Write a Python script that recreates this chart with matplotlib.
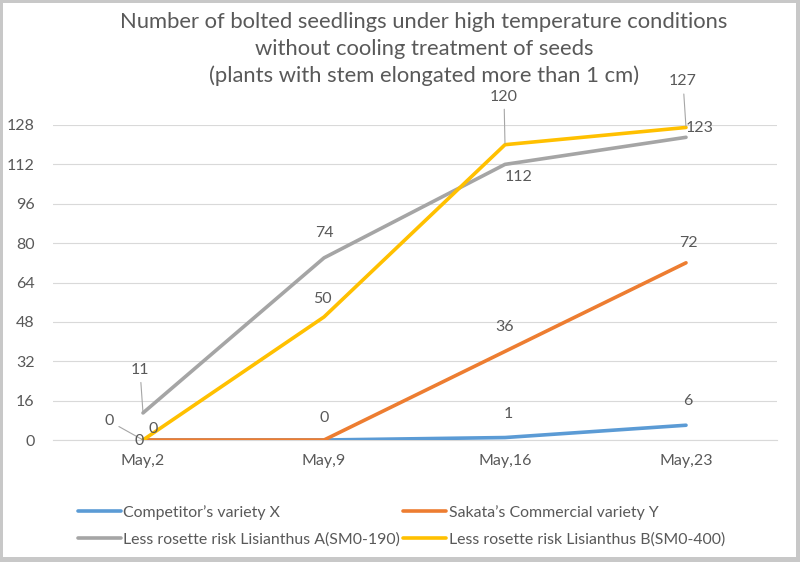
import matplotlib
matplotlib.use("Agg")
import matplotlib.pyplot as plt
from matplotlib.patches import Rectangle

# --- dados ---
dates = ["May,2", "May,9", "May,16", "May,23"]
competitor_x = [0, 0, 1, 6]
sakata_y = [0, 0, 36, 72]
lisianthus_a = [11, 74, 112, 123]
lisianthus_b = [0, 50, 120, 127]
series_names = [
    "Competitor\u2019s variety X",
    "Sakata\u2019s Commercial variety Y",
    "Less rosette risk Lisianthus A(SM0-190)",
    "Less rosette risk Lisianthus B(SM0-400)",
]
y_ticks = [0, 16, 32, 48, 64, 80, 96, 112, 128]
title_lines = [
    "Number of bolted seedlings under high temperature conditions",
    "without cooling treatment of seeds",
    "(plants with stem elongated more than 1 cm)",
]

colors = ["#5b9bd5", "#ed7d31", "#a5a5a5", "#ffc000"]
text_color = "#595959"
font = "Lato"

# posição dos rótulos (dx, dy em pixels, com linha guia?) por série / ponto
label_offsets = [
    [(-34, 19, True), (0, 22, False), (3, 24, False), (2, 24, False)],
    [(-4, -1, False), None, (0, 24, False), (2, 20, False)],
    [(-3, 43, True), (0, 25, False), (14, -13, False), (14, 9, False)],
    [(10, 11, False), (-2, 18, False), (-1, 48, True), (-3, 46, True)],
]

plt.rcParams["font.family"] = [font, "DejaVu Sans"]

fig = plt.figure(figsize=(8, 5.62), dpi=100)
fig.patch.set_facecolor("#c8c8c8")
fig.patches.append(Rectangle((3 / 800, 5 / 562), 793 / 800, 554 / 562,
                             transform=fig.transFigure, facecolor="white",
                             edgecolor="none", zorder=-10))

ax = fig.add_axes([52.5 / 800, 1 - 440 / 562, 724 / 800, 315 / 562])
ax.set_facecolor("none")

x = list(range(len(dates)))
all_series = [competitor_x, sakata_y, lisianthus_a, lisianthus_b]
lines = []
for i, (vals, col) in enumerate(zip(all_series, colors)):
    ln, = ax.plot(x, vals, color=col, lw=2.6, solid_capstyle="round",
                  solid_joinstyle="round", zorder=3 + i)
    lines.append(ln)

# rótulos de dados
for vals, offs in zip(all_series, label_offsets):
    for xi, (v, off) in enumerate(zip(vals, offs)):
        if off is None:
            continue
        dx, dy, leader = off
        kw = {}
        if leader:
            kw["arrowprops"] = dict(arrowstyle="-", color="#a6a6a6", lw=0.8,
                                    shrinkA=2, shrinkB=1)
        ax.annotate(str(v), (xi, v), xytext=(dx, dy), textcoords="offset pixels",
                    ha="center", va="center", fontsize=11.5, color=text_color,
                    zorder=10, **kw)

ax.set_xlim(-0.5, len(dates) - 0.5)
ax.set_ylim(0, 128)
ax.set_xticks(x)
ax.set_xticklabels(dates)
ax.set_yticks(y_ticks)
ax.tick_params(axis="both", length=0, labelsize=11.5, labelcolor=text_color)
ax.tick_params(axis="x", pad=10)
ax.tick_params(axis="y", pad=13)
ax.yaxis.grid(True, color="#d9d9d9", lw=0.8)
ax.set_axisbelow(True)
for side in ["top", "right", "left"]:
    ax.spines[side].set_visible(False)
ax.spines["bottom"].set_color("#d9d9d9")
ax.spines["bottom"].set_linewidth(0.8)

# título em três linhas
for k, line in enumerate(title_lines):
    fig.text(424 / 800, 1 - (22 + 27 * k) / 562, line, ha="center", va="center",
             fontsize=15.8, color=text_color)

# legenda (ordem trocada para preencher por linha)
order = [0, 2, 1, 3]
fig.legend([lines[i] for i in order], [series_names[i] for i in order],
           ncol=2, loc="center", bbox_to_anchor=(401.5 / 800, 1 - 526 / 562),
           frameon=False, fontsize=11.4, labelcolor=text_color,
           handlelength=2.7, handletextpad=0.15, columnspacing=0.2,
           labelspacing=0.8, borderpad=0)

fig.savefig("out.png", dpi=100)
